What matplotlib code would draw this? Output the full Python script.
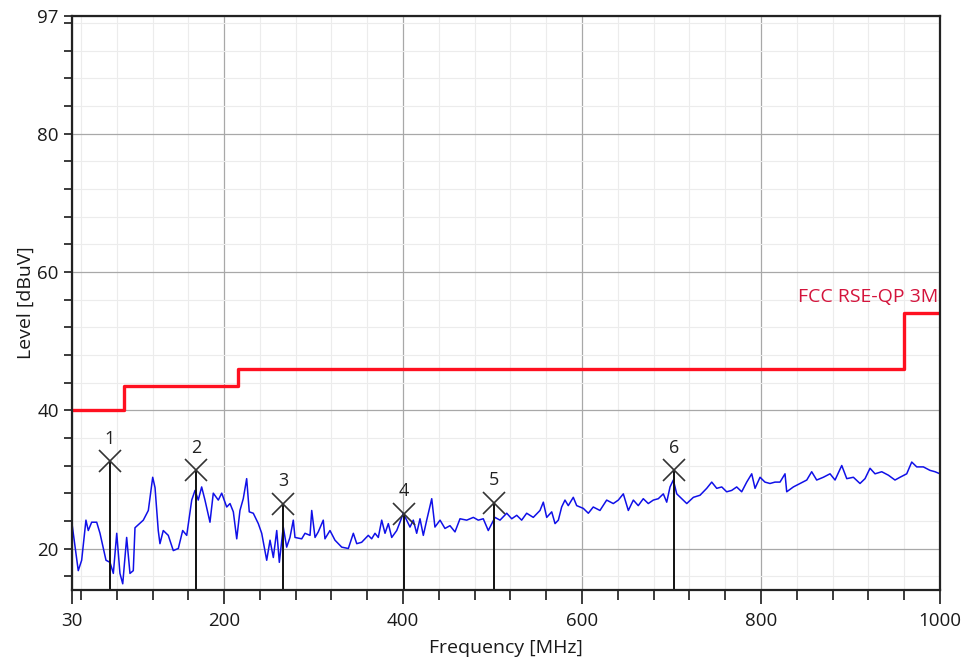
import numpy as np
import matplotlib.pyplot as plt
from matplotlib.ticker import FixedLocator

plt.rcParams['font.family'] = ['Open Sans', 'DejaVu Sans']

# measured trace (MHz, dBuV)
freq = [30.0, 37.0, 40.8, 45.6, 48.2, 52.0, 57.6, 61.3, 68.0, 72.5, 76.2, 80.0, 83.6, 86.7,
        91.1, 94.8, 98.5, 100.4, 109.7, 115.3, 120.2, 122.8, 126.4, 128.3, 132.0, 137.6,
        143.2, 148.8, 153.7, 158.2, 163.8, 167.5, 171.1, 174.9, 178.6, 184.2, 187.9, 193.5,
        197.3, 202.9, 206.6, 210.3, 214.1, 217.7, 221.4, 225.2, 228.1, 232.6, 238.2, 242.0,
        247.6, 251.3, 255.0, 258.8, 261.7, 266.1, 269.9, 273.6, 277.3, 279.2, 286.7, 290.4,
        296.0, 297.9, 301.6, 305.2, 310.8, 312.7, 318.3, 323.9, 327.6, 331.4, 338.8, 344.4,
        348.2, 353.7, 361.1, 364.9, 368.6, 372.3, 376.1, 379.8, 383.5, 387.3, 392.9, 396.5,
        400.2, 404.0, 407.7, 411.4, 415.2, 418.9, 422.6, 426.4, 432.0, 435.6, 441.3, 446.8,
        452.4, 458.0, 463.6, 471.1, 478.5, 484.0, 489.6, 495.2, 502.7, 508.3, 515.8, 521.4,
        527.0, 532.5, 538.1, 545.5, 553.0, 556.7, 560.5, 566.1, 569.8, 573.5, 577.2, 580.9,
        584.6, 590.2, 594.0, 601.4, 607.0, 612.5, 620.0, 627.5, 634.9, 640.5, 646.1, 651.7,
        657.3, 662.8, 668.4, 674.0, 679.6, 685.2, 690.8, 694.6, 698.3, 702.0, 705.8, 711.4,
        717.0, 724.4, 731.8, 739.3, 744.9, 750.5, 756.1, 761.6, 767.2, 772.8, 778.4, 784.0,
        789.6, 793.3, 798.9, 804.4, 810.0, 815.6, 821.2, 826.8, 828.7, 836.1, 843.6, 851.1,
        856.6, 862.2, 869.6, 877.1, 882.7, 890.2, 895.8, 903.2, 910.6, 916.2, 921.8, 927.4,
        934.9, 942.3, 949.7, 955.3, 962.8, 968.4, 974.0, 981.4, 988.8, 994.4, 1000.0]
level = [23.6, 16.8, 18.3, 24.1, 22.6, 23.8, 23.8, 22.2, 18.3, 18.0, 16.4, 22.2, 16.4, 14.9,
         21.6, 16.4, 16.8, 23.0, 24.1, 25.5, 30.3, 28.8, 22.6, 20.7, 22.6, 21.9,
         19.7, 20.0, 22.6, 21.9, 27.0, 28.4, 27.0, 28.9, 27.0, 23.8, 28.0, 27.0,
         28.0, 26.0, 26.5, 25.3, 21.4, 25.5, 27.2, 30.1, 25.3, 25.1, 23.6, 22.2,
         18.3, 21.2, 18.7, 22.6, 18.0, 23.1, 20.2, 21.6, 24.1, 21.6, 21.4, 22.2,
         21.9, 25.5, 21.6, 22.4, 24.1, 21.4, 22.6, 21.2, 20.7, 20.2, 20.0, 22.2,
         20.7, 20.9, 21.9, 21.4, 22.2, 21.6, 24.1, 22.2, 23.6, 21.6, 22.6, 23.8,
         25.1, 24.1, 23.1, 24.1, 22.2, 24.3, 21.9, 24.1, 27.2, 23.1, 24.1, 22.9,
         23.3, 22.4, 24.3, 24.1, 24.5, 24.1, 24.3, 22.6, 24.5, 24.1, 25.1, 24.3,
         24.8, 24.1, 25.1, 24.5, 25.5, 26.7, 24.5, 25.3, 23.6, 24.1, 26.0, 27.0,
         26.2, 27.4, 26.2, 25.8, 25.1, 26.0, 25.5, 27.0, 26.5, 27.0, 27.9, 25.5,
         27.0, 26.2, 27.2, 26.5, 27.0, 27.2, 27.9, 26.7, 28.9, 29.9, 27.9, 27.2,
         26.5, 27.4, 27.7, 28.7, 29.6, 28.7, 28.9, 28.2, 28.4, 28.9, 28.2, 29.6,
         30.8, 28.7, 30.3, 29.6, 29.4, 29.6, 29.6, 30.8, 28.2, 28.9, 29.4, 29.9,
         31.1, 29.9, 30.3, 30.8, 29.9, 32.0, 30.1, 30.3, 29.4, 30.1, 31.6, 30.8,
         31.1, 30.6, 29.9, 30.3, 30.8, 32.5, 31.8, 31.8, 31.3, 31.1, 30.8]

# FCC limit (step line)
lim_f = [30, 88, 88, 216, 216, 960, 960, 1000]
lim_v = [40, 40, 43.5, 43.5, 46, 46, 54, 54]

# peak markers
mk_f = [72.5, 169.0, 266.0, 400.5, 501.5, 702.5]
mk_v = [32.6, 31.3, 26.5, 25.0, 26.6, 31.3]
mk_lbl = ['1', '2', '3', '4', '5', '6']

fig = plt.figure(figsize=(9.65, 6.66), dpi=100)
ax = fig.add_axes([0.0746, 0.1141, 0.8995, 0.862])

ax.set_xlim(30, 1000)
ax.set_ylim(14, 97)

ax.xaxis.set_major_locator(FixedLocator([30, 200, 400, 600, 800, 1000]))
ax.xaxis.set_minor_locator(FixedLocator(np.arange(40, 1000, 40)))
ax.yaxis.set_major_locator(FixedLocator([20, 40, 60, 80, 97]))
ax.yaxis.set_minor_locator(FixedLocator([16, 24, 28, 32, 36, 44, 48, 52, 56, 64, 68, 72, 76, 84, 88, 92, 96]))

ax.grid(which='major', color='#a8a8a8', linewidth=0.9)
ax.grid(which='minor', color='#ececec', linewidth=0.8)
ax.set_axisbelow(True)

ax.tick_params(which='both', direction='out', labelsize=13.5, colors='#1a1a1a')
ax.tick_params(axis='x', which='major', length=10, width=1.2, pad=6)
ax.tick_params(axis='x', which='minor', length=7, width=1.2)
ax.tick_params(axis='y', which='both', length=6, width=1.2)
for s in ax.spines.values():
    s.set_color('#222222')
    s.set_linewidth(1.6)

ax.plot(freq, level, color='#1010e8', linewidth=1.1)
ax.plot(lim_f, lim_v, color='#ff1020', linewidth=2.4)
ax.text(998, 56.4, 'FCC RSE-QP 3M', color='#d4143c', fontsize=14, ha='right', va='center')

ax.vlines(mk_f, 14, mk_v, color='#111111', linewidth=1.4)
ax.plot(mk_f, mk_v, 'x', color='#333333', markersize=16, markeredgewidth=1.2)
for f, v, t in zip(mk_f, mk_v, mk_lbl):
    ax.text(f, v + 2.0, t, fontsize=13, ha='center', va='bottom', color='#222222')

ax.set_xlabel('Frequency [MHz]', fontsize=14, color='#1a1a1a', labelpad=6)
ax.set_ylabel('Level [dBuV]', fontsize=14, color='#1a1a1a', labelpad=2)

fig.savefig('out.png', dpi=100)
